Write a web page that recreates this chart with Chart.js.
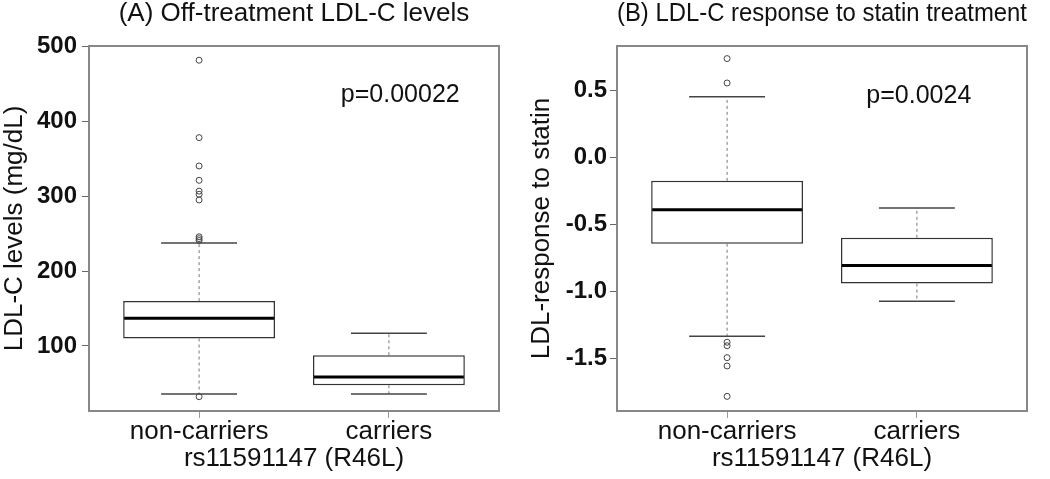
<!DOCTYPE html>
<html>
<head>
<meta charset="utf-8">
<script src="https://cdn.jsdelivr.net/npm/chart.js@4.4.1/dist/chart.umd.min.js"></script>
<style>
  html, body { margin: 0; padding: 0; background: #fff; }
  #wrap { position: relative; width: 1050px; height: 479px; }
  canvas { position: absolute; top: 0; }
</style>
</head>
<body>
<div id="wrap">
  <canvas id="chartA" width="525" height="479" style="left:0;width:525px;height:479px"></canvas>
  <canvas id="chartB" width="525" height="479" style="left:525px;width:525px;height:479px"></canvas>
</div>
<script>
const categories = ["non-carriers", "carriers"];
const xTitle = "rs11591147 (R46L)";

// (A) off-treatment LDL-C (mg/dL)
const ldlQ1 = [110, 47.5];
const ldlMedian = [137, 58.6];
const ldlQ3 = [160, 87.6];
const ldlLow = [35.8, 35.8];
const ldlHigh = [237.7, 117];
const ldlOutliers = [482, 378.5, 340.6, 321.5, 307, 302.8, 295.2, 246, 243.5, 241, 32.2];
const ldlTicks = [100, 200, 300, 400, 500];

// (B) LDL-C response to statin
const respQ1 = [-0.641, -0.938];
const respMedian = [-0.387, -0.803];
const respQ3 = [-0.172, -0.597];
const respLow = [-1.331, -1.07];
const respHigh = [0.456, -0.374];
const respOutliers = [0.74, 0.558, -1.376, -1.402, -1.491, -1.553, -1.78];
const respTicks = [-1.5, -1.0, -0.5, 0.0, 0.5];

Chart.defaults.font.family = "'Liberation Sans', Arial, sans-serif";
Chart.defaults.color = "#111";

// whiskers, caps, medians, p-value and the frame, drawn through the chart scales
const boxExtras = {
  id: "boxExtras",
  afterDatasetsDraw(chart, args, opts) {
    const ctx = chart.ctx;
    const xs = chart.scales.x, ys = chart.scales.y;
    const s = opts.stats;
    const seg = (x1, y1, x2, y2) => {
      ctx.beginPath(); ctx.moveTo(x1, y1); ctx.lineTo(x2, y2); ctx.stroke();
    };
    ctx.save();
    for (let i = 0; i < s.median.length; i++) {
      const pos = i + 1;
      const xc = xs.getPixelForValue(pos);
      const yq1 = ys.getPixelForValue(s.q1[i]), yq3 = ys.getPixelForValue(s.q3[i]);
      const ylo = ys.getPixelForValue(s.low[i]), yhi = ys.getPixelForValue(s.high[i]);
      ctx.strokeStyle = "#777"; ctx.lineWidth = 1; ctx.setLineDash([3, 3]);
      seg(xc, yq3, xc, yhi);
      seg(xc, yq1, xc, ylo);
      ctx.setLineDash([]);
      ctx.strokeStyle = "#444"; ctx.lineWidth = 1.5;
      const cl = xs.getPixelForValue(pos - 0.2), cr = xs.getPixelForValue(pos + 0.2);
      seg(cl, yhi, cr, yhi);
      seg(cl, ylo, cr, ylo);
      ctx.strokeStyle = "#000"; ctx.lineWidth = 3;
      const ym = ys.getPixelForValue(s.median[i]);
      seg(xs.getPixelForValue(pos - 0.4) + 1, ym, xs.getPixelForValue(pos + 0.4) - 1, ym);
    }
    ctx.font = "25px 'Liberation Sans', Arial, sans-serif";
    ctx.fillStyle = "#111";
    ctx.textAlign = "center";
    ctx.textBaseline = "middle";
    ctx.fillText(opts.pText, xs.getPixelForValue(opts.pAt[0]), ys.getPixelForValue(opts.pAt[1]));
    const a = chart.chartArea;
    ctx.strokeStyle = "#888"; ctx.lineWidth = 2;
    ctx.strokeRect(a.left, a.top, a.right - a.left, a.bottom - a.top);
    ctx.restore();
  }
};

function makePanel(id, p) {
  new Chart(document.getElementById(id), {
    type: "bar",
    data: {
      datasets: [
        {
          data: categories.map((c, i) => ({ x: i + 1, y: [p.q1[i], p.q3[i]] })),
          backgroundColor: "#fff",
          borderColor: "#333",
          borderWidth: 1.5,
          borderSkipped: false,
          categoryPercentage: 0.8,
          barPercentage: 1
        },
        {
          type: "scatter",
          data: p.outliers.map(v => ({ x: 1, y: v })),
          pointRadius: 3,
          pointBorderWidth: 1,
          pointBorderColor: "#444",
          pointBackgroundColor: "rgba(0,0,0,0)"
        }
      ]
    },
    options: {
      responsive: false,
      animation: false,
      devicePixelRatio: 1,
      layout: { padding: { left: 0, right: p.padRight, top: 0, bottom: 0 } },
      plugins: {
        legend: { display: false },
        tooltip: { enabled: false },
        title: {
          display: true,
          text: p.title,
          fullSize: false,
          color: "#111",
          font: { size: 26, weight: "normal", lineHeight: 1 },
          padding: { top: 1, bottom: 19 }
        },
        boxExtras: {
          stats: { q1: p.q1, q3: p.q3, median: p.median, low: p.low, high: p.high },
          pText: p.pText,
          pAt: p.pAt
        }
      },
      scales: {
        x: {
          type: "linear",
          min: 0.42,
          max: 2.58,
          offset: false,
          afterBuildTicks: ax => { ax.ticks = categories.map((c, i) => ({ value: i + 1 })); },
          afterFit: ax => { ax.height = 68; },
          ticks: {
            autoSkip: false,
            maxRotation: 0,
            padding: 1,
            color: "#111",
            font: { size: 26, lineHeight: 1 },
            callback: v => categories[v - 1]
          },
          grid: { display: true, drawOnChartArea: false, drawTicks: true, tickLength: 7, color: "#999", offset: false },
          border: { display: false },
          title: {
            display: true,
            text: xTitle,
            color: "#111",
            font: { size: 26, lineHeight: 1 },
            padding: { top: 0, bottom: 7 }
          }
        },
        y: {
          type: "linear",
          min: p.yMin,
          max: p.yMax,
          afterBuildTicks: ax => { ax.ticks = p.ticks.map(v => ({ value: v })); },
          afterFit: ax => { ax.width = p.axisWidth; },
          ticks: {
            padding: p.tickPad,
            color: "#111",
            font: { size: 24, weight: "bold", lineHeight: 1 },
            callback: p.fmt
          },
          grid: { display: true, drawOnChartArea: false, drawTicks: true, tickLength: 7, color: "#666" },
          border: { display: false },
          title: {
            display: true,
            text: p.yTitle,
            color: "#111",
            font: { size: 26, lineHeight: 1 },
            padding: { top: p.titlePad, bottom: 0 }
          }
        }
      }
    },
    plugins: [boxExtras]
  });
}

makePanel("chartA", {
  title: "(A) Off-treatment LDL-C levels",
  yTitle: "LDL-C levels (mg/dL)",
  q1: ldlQ1, q3: ldlQ3, median: ldlMedian, low: ldlLow, high: ldlHigh,
  outliers: ldlOutliers,
  ticks: ldlTicks,
  fmt: v => String(v),
  yMin: 13.1, yMax: 501,
  pText: "p=0.00022", pAt: [2.06, 436],
  axisWidth: 89, tickPad: 5, titlePad: 1.5, padRight: 26
});

makePanel("chartB", {
  title: "(B) LDL-C response to statin treatment",
  yTitle: "LDL-response to statin",
  q1: respQ1, q3: respQ3, median: respMedian, low: respLow, high: respHigh,
  outliers: respOutliers,
  ticks: respTicks,
  fmt: v => v.toFixed(1),
  yMin: -1.889, yMax: 0.834,
  pText: "p=0.0024", pAt: [2.01, 0.46],
  axisWidth: 92, tickPad: 3, titlePad: 3.5, padRight: 23
});
</script>
</body>
</html>
